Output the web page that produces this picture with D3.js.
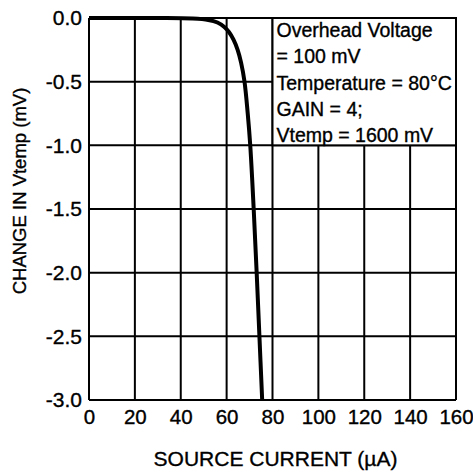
<!DOCTYPE html>
<html>
<head>
<meta charset="utf-8">
<script src="https://cdn.jsdelivr.net/npm/d3@7"></script>
<style>
  html, body { margin: 0; padding: 0; background: #fff; }
  svg { display: block; }
  text { font-family: "Liberation Sans", Arial, Helvetica, sans-serif; fill: #000; stroke: #000; stroke-width: 0.35px; }
</style>
</head>
<body>
<svg id="chart" width="473" height="472"></svg>
<script>
// Source current (µA) and resulting change in Vtemp (mV)
const current = [0, 30, 45, 52, 56, 59, 61, 63, 64.8, 66.3, 67.8, 69.2, 70.3, 71.8, 73.1, 74.3, 75.5];
const deltaV  = [0, 0, -0.004, -0.015, -0.035, -0.07, -0.11, -0.17, -0.25, -0.35, -0.5, -0.75, -1.0, -1.5, -2.0, -2.5, -3.0];

const xTicks = [0, 20, 40, 60, 80, 100, 120, 140, 160];
const yTicks = [0, -0.5, -1.0, -1.5, -2.0, -2.5, -3.0];

const noteLines = ["Overhead Voltage", "= 100 mV", "Temperature = 80°C", "GAIN = 4;", "Vtemp = 1600 mV"];
const noteBox = { x0: 80, x1: 160, y0: 0, y1: -1.0 };

const xTitle = "SOURCE CURRENT (µA)";
const yTitle = "CHANGE IN Vtemp (mV)";

const svg = d3.select("#chart");
const L = 89, R = 456, T = 18, B = 400;

const x = d3.scaleLinear().domain([0, 160]).range([L, R]);
const y = d3.scaleLinear().domain([0, -3]).range([T, B]);

// grid (outer lines form the frame)
const grid = svg.append("g").attr("stroke", "#000").attr("stroke-width", 2);
grid.selectAll(".vx").data(xTicks).join("line")
  .attr("x1", d => x(d)).attr("x2", d => x(d)).attr("y1", T).attr("y2", B);
grid.selectAll(".hy").data(yTicks).join("line")
  .attr("x1", L).attr("x2", R).attr("y1", d => y(d)).attr("y2", d => y(d));

// tick labels (plain hyphen for the minus sign)
const xAxis = d3.axisBottom(x).tickValues(xTicks).tickSize(0).tickPadding(9).tickFormat(d => String(d));
svg.append("g").attr("transform", `translate(0,${B})`).call(xAxis)
  .call(g => g.select(".domain").remove())
  .selectAll("text").attr("font-size", 20.5).attr("font-family", "Liberation Sans, Arial, sans-serif");

const yAxis = d3.axisLeft(y).tickValues(yTicks).tickSize(0).tickPadding(7).tickFormat(d => d.toFixed(1));
svg.append("g").attr("transform", `translate(${L},0)`).call(yAxis)
  .call(g => g.select(".domain").remove())
  .selectAll("text").attr("font-size", 21).attr("font-family", "Liberation Sans, Arial, sans-serif");

// curve
svg.append("defs").append("clipPath").attr("id", "plot")
  .append("rect").attr("x", L).attr("y", T - 3).attr("width", R - L).attr("height", B - T + 3);
const line = d3.line().x((d, i) => x(current[i])).y(d => y(d)).curve(d3.curveCatmullRom.alpha(0.5));
svg.append("path").datum(deltaV)
  .attr("clip-path", "url(#plot)")
  .attr("d", line).attr("fill", "none").attr("stroke", "#000").attr("stroke-width", 4);

// condition note
svg.append("rect")
  .attr("x", x(noteBox.x0)).attr("y", y(noteBox.y0))
  .attr("width", x(noteBox.x1) - x(noteBox.x0)).attr("height", y(noteBox.y1) - y(noteBox.y0))
  .attr("fill", "#fff").attr("stroke", "#000").attr("stroke-width", 2);
svg.append("g").selectAll("text").data(noteLines).join("text")
  .attr("x", x(noteBox.x0) + 4)
  .attr("y", (d, i) => 37 + i * 26.3)
  .attr("font-size", 19.5)
  .attr("stroke-width", 0.2)
  .text(d => d);

// titles
svg.append("text").attr("x", (L + R) / 2 + 3).attr("y", 466).attr("text-anchor", "middle")
  .attr("font-size", 21).text(xTitle);
svg.append("text").attr("transform", "translate(25.5,191) rotate(-90)").attr("text-anchor", "middle")
  .attr("font-size", 18.5).text(yTitle);
</script>
</body>
</html>
